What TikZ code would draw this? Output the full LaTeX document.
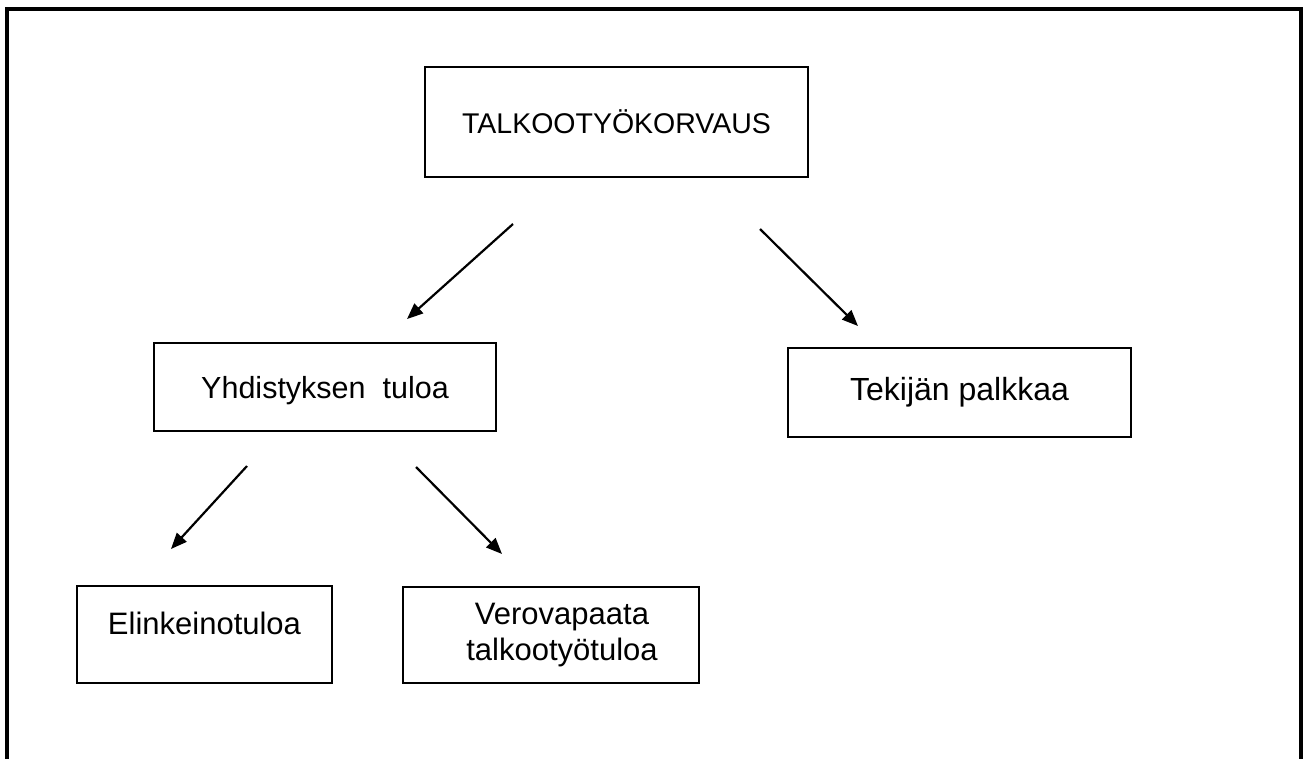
\documentclass[tikz,border=0pt]{standalone}
\usepackage{fontspec}
\setmainfont{Liberation Sans}
\usetikzlibrary{arrows.meta}

\tikzset{
  box/.style={draw, line width=2pt, inner sep=0pt, align=center},
  arr/.style={line width=2.2pt, -{Triangle[length=16pt,width=13pt]}}
}

\begin{document}
\begin{tikzpicture}[x=1pt, y=-1pt]
\useasboundingbox (0,0) rectangle (1305,758);
%Frame
\draw[line width=4pt] (7,770) -- (7,9) -- (1301,9) -- (1301,770);

%Nodes
\node[box, minimum width=383pt, minimum height=110pt, font=\fontsize{28.5}{34}\selectfont]
    (root) at (616.5,122) {TALKOOTY\"OKORVAUS};
\node[box, minimum width=342pt, minimum height=88pt, font=\fontsize{30.5}{36}\selectfont]
    (yhd)  at (325,387)   {\raisebox{-4pt}[\height][\depth]{Yhdistyksen\ \ tuloa}};
\node[box, minimum width=343pt, minimum height=89pt, font=\fontsize{32}{38}\selectfont]
    (tek)  at (959.5,392.5) {Tekij\"an palkkaa};
\node[box, minimum width=255pt, minimum height=97pt, font=\fontsize{31}{36}\selectfont]
    (elin) at (204.5,634.5) {\raisebox{11pt}[\height][\depth]{Elinkeinotuloa}};
\node[box, minimum width=296pt, minimum height=96pt, font=\fontsize{31}{36}\selectfont]
    (vero) at (551,635)   {\hspace*{22pt}Verovapaata\\\hspace*{22pt}talkooty\"otuloa};

%Lines
\draw[arr] ([xshift=-103.5pt, yshift=-46pt]root.south) -- ([xshift=82pt, yshift=23pt]yhd.north);
\draw[arr] ([xshift=143.5pt, yshift=-51pt]root.south) -- ([xshift=-101.5pt, yshift=21pt]tek.north);
\draw[arr] ([xshift=-78pt, yshift=-34pt]yhd.south) -- ([xshift=-33.5pt, yshift=36pt]elin.north);
\draw[arr] ([xshift=91pt, yshift=-35pt]yhd.south) -- ([xshift=-49pt, yshift=32pt]vero.north);
\end{tikzpicture}
\end{document}
